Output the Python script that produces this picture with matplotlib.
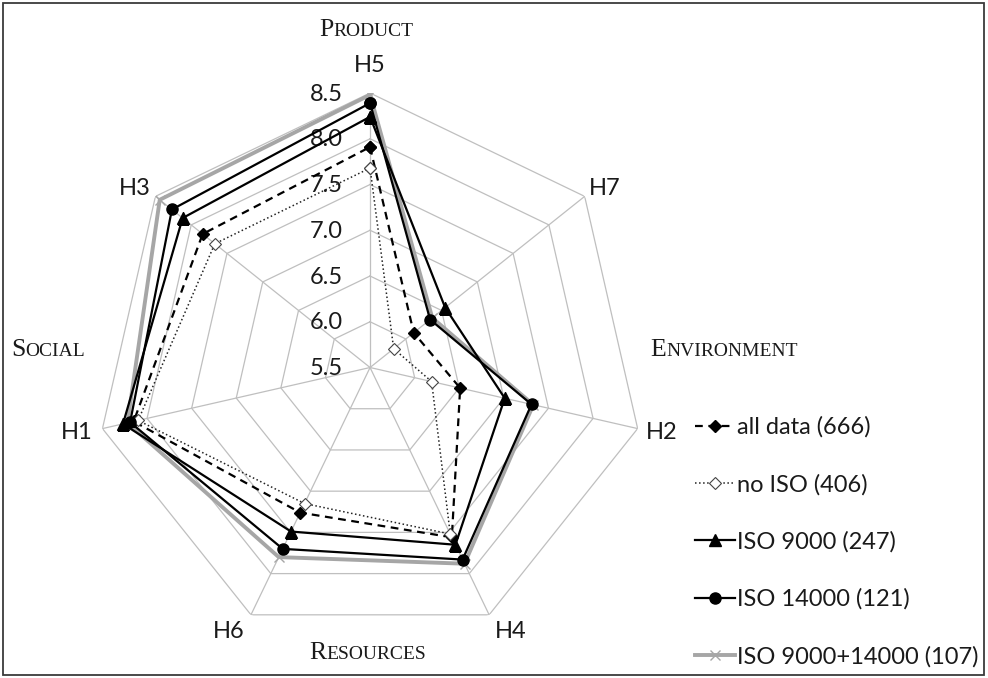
import numpy as np
import matplotlib
matplotlib.use('Agg')
import matplotlib.pyplot as plt
from matplotlib.offsetbox import TextArea, HPacker, AnnotationBbox
from matplotlib.patches import Rectangle

# axes of the radar, clockwise from the top
axes_names = ['H5', 'H7', 'H2', 'H4', 'H6', 'H1', 'H3']

all_data = [7.91, 6.11, 6.51, 7.56, 7.26, 8.15, 7.84]
no_iso = [7.68, 5.83, 6.19, 7.52, 7.15, 8.10, 7.67]
iso9000 = [8.24, 6.55, 7.01, 7.65, 7.49, 8.27, 8.12]
iso14000 = [8.39, 6.34, 7.31, 7.83, 7.70, 8.19, 8.27]
iso_both = [8.48, 6.37, 7.33, 7.88, 7.80, 8.22, 8.44]

ticks = [5.5, 6.0, 6.5, 7.0, 7.5, 8.0, 8.5]

plt.rcParams['font.family'] = ['Lato', 'DejaVu Sans']

fig = plt.figure(figsize=(9.88, 6.78), dpi=100)
ax = fig.add_axes([0.0967, 0.0531, 0.5557, 0.8097], projection='polar')
ax.set_theta_zero_location('N')
ax.set_theta_direction(-1)
ax.set_ylim(5.5, 8.5)
ax.grid(False)
ax.spines['polar'].set_visible(False)
ax.set_xticks([])
ax.set_yticks([])
ax.patch.set_alpha(0)

n = len(axes_names)
theta = np.arange(n) * 2 * np.pi / n
closed = np.append(theta, theta[0])

def close(v):
    return list(v) + [v[0]]

# heptagon grid + spokes
for lev in ticks[1:]:
    ax.plot(closed, [lev] * (n + 1), color='#bfbfbf', lw=0.9, zorder=1)
for t in theta:
    ax.plot([t, t], [5.5, 8.5], color='#bfbfbf', lw=0.9, zorder=1)

# radial tick labels on the H5 axis
for lev in ticks:
    ax.annotate('%.1f' % lev, (0, lev), xytext=(-27, -1), textcoords='offset pixels',
                ha='right', va='center', fontsize=17, color='#1a1a1a', zorder=2)

# category labels (pixel offsets from the outer vertex)
offs = {'H5': (0, 28), 'H7': (20, 8), 'H2': (24, -4), 'H4': (22, -17),
        'H6': (-22, -17), 'H1': (-26, -4), 'H3': (-21, 8)}
for t, name in zip(theta, axes_names):
    ax.annotate(name, (t, 8.5), xytext=offs[name], textcoords='offset pixels',
                ha='center', va='center', fontsize=17, color='#1a1a1a',
                annotation_clip=False)

ax.plot(closed, close(all_data), color='black', lw=1.6, dashes=(3.5, 2.5),
        marker='D', ms=6.5, mfc='black', label='all data (666)', zorder=4)
ax.plot(closed, close(no_iso), color='#222222', lw=1.1, ls=':',
        marker='D', ms=6.5, mfc='white', mec='#444444', mew=0.8,
        label='no ISO (406)', zorder=4)
ax.plot(closed, close(iso9000), color='black', lw=1.6,
        marker='^', ms=8, label='ISO 9000 (247)', zorder=4)
ax.plot(closed, close(iso14000), color='black', lw=1.6,
        marker='o', ms=8, label='ISO 14000 (121)', zorder=4)
ax.plot(closed, close(iso_both), color='#a6a6a6', lw=2.8,
        marker='x', ms=7, mew=1, label='ISO 9000+14000 (107)', zorder=3)

leg = fig.legend(loc='upper left', bbox_to_anchor=(0.703, 0.386), frameon=False,
                 fontsize=17, handlelength=1.7, handletextpad=0.1,
                 labelspacing=1.52, borderaxespad=0, borderpad=0)
for txt in leg.get_texts():
    txt.set_color('#1a1a1a')

# small-caps group labels
def smallcaps(word, x, y):
    a = TextArea(word[0], textprops=dict(fontsize=18.5, family='Liberation Serif', color='#1a1a1a'))
    b = TextArea(word[1:].upper(), textprops=dict(fontsize=14, family='Liberation Serif', color='#1a1a1a'))
    box = HPacker(children=[a, b], align='baseline', pad=0, sep=0)
    ab = AnnotationBbox(box, (x, y), xycoords='figure pixels', frameon=False,
                        box_alignment=(0.5, 0.5))
    fig.add_artist(ab)

H = 678
smallcaps('Product', 366, H - 30)
smallcaps('Environment', 724, H - 350)
smallcaps('Social', 48, H - 350)
smallcaps('Resources', 368, H - 653)

fig.add_artist(Rectangle((0.003, 0.004), 0.993, 0.991, transform=fig.transFigure,
                         fill=False, edgecolor='#3a3a3a', lw=1.3))

fig.savefig('out.png', dpi=100)
